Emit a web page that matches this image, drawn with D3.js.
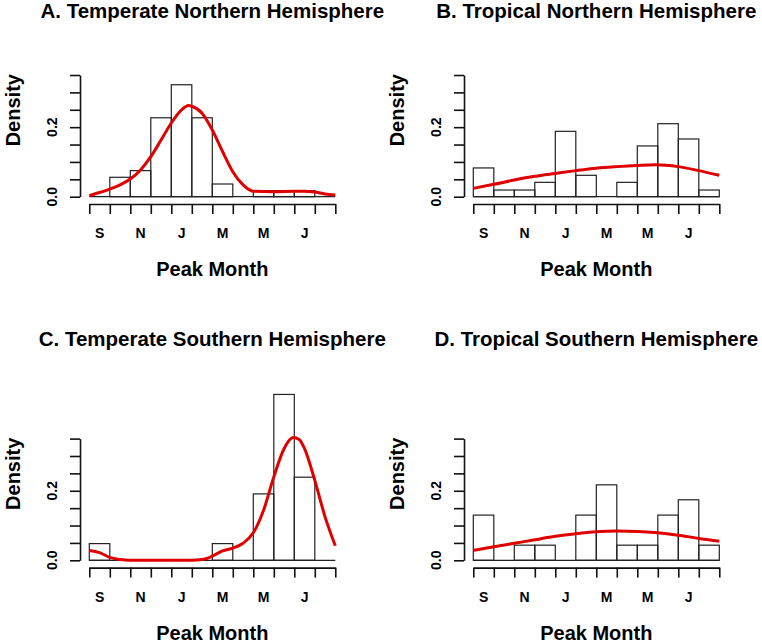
<!DOCTYPE html>
<html>
<head>
<meta charset="utf-8">
<script src="https://cdn.jsdelivr.net/npm/d3@7"></script>
<style>
  html, body { margin: 0; padding: 0; background: #fff; }
  svg { display: block; }
  text { font-family: "Liberation Sans", Arial, Helvetica, sans-serif; font-weight: bold; fill: #000; }
</style>
</head>
<body>
<svg id="chart" width="762" height="644"></svg>
<script>
// ---------------- data ----------------
const months = ["S","O","N","D","J","F","M","A","M","J","J","A"];
const yTicks = [0, 0.05, 0.1, 0.15, 0.2, 0.25, 0.3, 0.35];
const yTickLabels = {"0": "0.0", "0.2": "0.2"};

const titles = [
  "A. Temperate Northern Hemisphere",
  "B. Tropical Northern Hemisphere",
  "C. Temperate Southern Hemisphere",
  "D. Tropical Southern Hemisphere"
];

// histogram densities, one per month bin (Sep..Aug)
const densA = [0, 0.0558, 0.075, 0.227, 0.322, 0.227, 0.0365, 0, 0.0173, 0.0173, 0.0173, 0];
const densB = [0.0827, 0.0192, 0.0192, 0.0413, 0.188, 0.0615, 0, 0.0413, 0.146, 0.21, 0.166, 0.0192];
const densC = [0.048, 0, 0, 0, 0, 0, 0.048, 0, 0.191, 0.477, 0.239, 0];
const densD = [0.130, 0, 0.0435, 0.0435, 0, 0.130, 0.217, 0.0435, 0.0435, 0.130, 0.174, 0.0435];

// kernel density curves: [month position, density]
const kdeA = [[0,0.003],[0.5,0.012],[1,0.022],[1.5,0.034],[2,0.051],[2.5,0.077],[3,0.115],[3.5,0.163],
  [4,0.212],[4.5,0.25],[4.85,0.262],[5,0.26],[5.5,0.24],[6,0.192],[6.5,0.13],[7,0.072],[7.5,0.034],
  [8,0.016],[9,0.0145],[10,0.016],[10.5,0.016],[11,0.0135],[11.5,0.008],[12,0.005]];
const kdeB = [[0,0.024],[1,0.0356],[2,0.048],[3,0.0587],[4,0.067],[5,0.075],[6,0.082],[7,0.0865],
  [8,0.090],[8.9,0.092],[10,0.0865],[11,0.075],[12,0.0615]];
const kdeC = [[0,0.028],[0.5,0.022],[1,0.0086],[1.5,0.002],[2,0],[3,0],[4,0],[5,0],[5.5,0.002],
  [6,0.012],[6.5,0.027],[7,0.035],[7.5,0.049],[8,0.079],[8.5,0.144],[9,0.24],[9.5,0.321],[9.95,0.353],
  [10.25,0.347],[10.5,0.321],[11,0.23],[11.5,0.125],[12,0.042]];
const kdeD = [[0,0.0287],[1,0.039],[2,0.0488],[3,0.059],[4,0.069],[5,0.0765],[6,0.082],[7,0.084],
  [8,0.083],[9,0.079],[10,0.072],[11,0.063],[12,0.0545]];

const dens = [densA, densB, densC, densD];
const kdes = [kdeA, kdeB, kdeC, kdeD];

// ---------------- layout ----------------
const colX = [89.3, 473.3];     // left edge of bins
const plotW = 246;              // width of 12 bins
const rowZero = [196.7, 560.3]; // y of density 0
const pxPerUnit = 347.7;        // pixels per density unit
const titleBase = [18, 346];
const svg = d3.select("#chart");

for (let p = 0; p < 4; p++) {
  const col = p % 2, row = Math.floor(p / 2);
  const x = d3.scaleLinear().domain([0, 12]).range([colX[col], colX[col] + plotW]);
  const y = d3.scaleLinear().domain([0, 0.35]).range([rowZero[row], rowZero[row] - 0.35 * pxPerUnit]);
  const g = svg.append("g");
  const yAxisX = colX[col] - 9.3;
  const xAxisY = rowZero[row] + 7.3;

  // bars
  g.selectAll("rect.bar").data(dens[p]).enter().append("rect")
    .attr("class", "bar")
    .attr("x", (d, i) => x(i))
    .attr("width", x(1) - x(0))
    .attr("y", d => y(d))
    .attr("height", d => y(0) - y(d))
    .attr("fill", "none")
    .attr("stroke", "#222")
    .attr("stroke-width", 1.2);
  // baseline of histogram (R draws bars with 0 height as lines)
  g.append("line")
    .attr("x1", x(0)).attr("x2", x(12))
    .attr("y1", y(0)).attr("y2", y(0))
    .attr("stroke", "#222").attr("stroke-width", 1.2);

  // density curve
  const line = d3.line().x(d => x(d[0])).y(d => y(d[1])).curve(d3.curveMonotoneX);
  g.append("path").datum(kdes[p])
    .attr("d", line)
    .attr("fill", "none")
    .attr("stroke", "#e00000")
    .attr("stroke-width", 3)
    .attr("stroke-linejoin", "round");

  // x axis
  const xAxis = d3.axisBottom(x).tickValues(d3.range(0, 13)).tickSize(10).tickSizeOuter(0).tickFormat("");
  const gx = g.append("g").attr("transform", `translate(0,${xAxisY})`).call(xAxis);
  gx.selectAll("path, line").attr("stroke", "#111").attr("stroke-width", 1.6);
  g.selectAll("text.mlab").data(months.map((m, i) => ({m, i})).filter(d => d.i % 2 === 0))
    .enter().append("text").attr("class", "mlab")
    .attr("x", d => x(d.i + 0.5))
    .attr("y", xAxisY + 34.3)
    .attr("text-anchor", "middle")
    .attr("font-size", 14)
    .text(d => d.m);

  // y axis
  const yAxis = d3.axisLeft(y).tickValues(yTicks).tickSize(10).tickSizeOuter(0).tickFormat("");
  const gy = g.append("g").attr("transform", `translate(${yAxisX},0)`).call(yAxis);
  gy.selectAll("path, line").attr("stroke", "#111").attr("stroke-width", 1.6);
  yTicks.filter(t => yTickLabels[String(t)]).forEach(t => {
    g.append("text")
      .attr("transform", `translate(${yAxisX - 23.3},${y(t)}) rotate(-90)`)
      .attr("text-anchor", "middle")
      .attr("font-size", 14)
      .text(yTickLabels[String(t)]);
  });

  // axis titles
  g.append("text")
    .attr("x", x(6))
    .attr("y", xAxisY + 72)
    .attr("text-anchor", "middle")
    .attr("font-size", 20)
    .text("Peak Month");
  g.append("text")
    .attr("transform", `translate(${yAxisX - 60.5},${rowZero[row] - 86.5}) rotate(-90)`)
    .attr("text-anchor", "middle")
    .attr("font-size", 20)
    .text("Density");

  // panel title
  svg.append("text")
    .attr("x", x(6))
    .attr("y", titleBase[row])
    .attr("text-anchor", "middle")
    .attr("font-size", 20.5)
    .text(titles[p]);
}
</script>
</body>
</html>
